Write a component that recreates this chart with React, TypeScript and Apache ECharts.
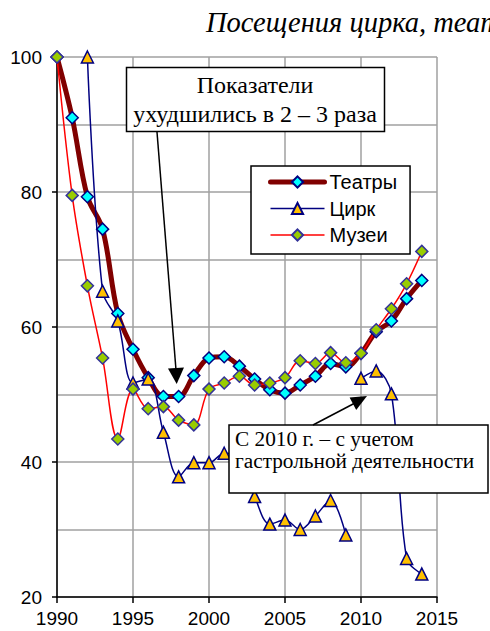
import React, { useEffect, useRef } from 'react';
import * as echarts from 'echarts';

const years = [1990, 1991, 1992, 1993, 1994, 1995, 1996, 1997, 1998, 1999, 2000, 2001, 2002, 2003, 2004, 2005, 2006, 2007, 2008, 2009, 2010, 2011, 2012, 2013, 2014];
const theaters = [100, 91.0, 79.3, 74.5, 62.0, 56.7, 52.5, 49.7, 49.7, 52.8, 55.4, 55.6, 54.2, 52.3, 50.7, 50.2, 51.4, 52.7, 54.6, 54.1, 56.1, 59.3, 60.9, 64.2, 66.9];
const circus = [null, null, 100, 65.3, 60.9, 51.7, 52.3, 44.4, 37.8, 39.9, 39.9, 41.3, 40.5, 34.9, 30.8, 31.4, 30.0, 32.0, 34.3, 29.2, 52.4, 53.5, 50.1, 25.7, 23.4];
const museums = [100, 79.5, 66.1, 55.4, 43.4, 50.8, 47.9, 48.2, 46.2, 45.5, 50.8, 51.7, 52.7, 51.4, 51.7, 52.5, 55.0, 54.6, 56.2, 54.7, 56.1, 59.6, 62.7, 66.4, 71.2];
const circusBreakYear = 2010; // touring activity included from 2010
const seriesNames = ['Театры', 'Цирк', 'Музеи'];
const titleText = 'Посещения цирка, театров и музеев';
const note1 = 'Показатели\nухудшились в 2 – 3 раза';
const note2 = 'С 2010 г. – с учетом\nгастрольной деятельности';

export default function App() {
  const ref = useRef<HTMLDivElement>(null);
  useEffect(() => {
    if (!ref.current) return;
    const chart = echarts.init(ref.current, null, { renderer: 'svg' });
    const pairs = (vals: (number | null)[], filter: (y: number) => boolean) =>
      years.map((y, i) => [y, vals[i]] as [number, number | null]).filter(([y, v]) => v !== null && filter(y));
    const sans = 'Liberation Sans, Arial, sans-serif';
    const serif = 'Liberation Serif, Times New Roman, serif';
    const grid = '#A0A0A0';
    const circusStyle = {
      type: 'line' as const,
      name: seriesNames[1],
      smooth: 0.35,
      symbol: 'triangle',
      symbolSize: 12,
      lineStyle: { color: '#000080', width: 1.5 },
      itemStyle: { color: '#FFC000', borderColor: '#000080', borderWidth: 1.5 },
    };
    chart.setOption({
      animation: false,
      title: {
        text: titleText,
        left: 206,
        top: 8,
        padding: 0,
        textStyle: { fontFamily: serif, fontStyle: 'italic', fontWeight: 'normal', fontSize: 28.5, color: '#000' },
      },
      grid: { left: 57, right: 53, top: 57, bottom: 34 },
      legend: {
        data: [
          { name: seriesNames[0], lineStyle: { width: 5, color: '#800000', cap: 'round' } },
          { name: seriesNames[1], lineStyle: { width: 1.5, color: '#000080' } },
          { name: seriesNames[2], lineStyle: { width: 1.5, color: '#FF0000' } },
        ],
        orient: 'vertical',
        left: 251,
        top: 166,
        padding: [6, 13, 9, 17],
        itemWidth: 54,
        itemHeight: 14,
        itemGap: 6.5,
        backgroundColor: '#fff',
        borderColor: '#000',
        borderWidth: 1.5,
        textStyle: { fontFamily: sans, fontSize: 20, color: '#000', lineHeight: 19 },
      },
      xAxis: {
        type: 'value',
        min: 1990,
        max: 2015,
        interval: 5,
        axisLine: { lineStyle: { color: '#000', width: 1.5 } },
        axisTick: { show: true, length: 6, lineStyle: { color: '#000', width: 1.5 } },
        axisLabel: { margin: 12, fontFamily: sans, fontSize: 19, color: '#000', formatter: (v: number) => String(v) },
        splitLine: { show: true, lineStyle: { color: grid, width: 1.5 } },
      },
      yAxis: {
        type: 'value',
        min: 20,
        max: 100,
        interval: 20,
        axisLine: { show: true, lineStyle: { color: '#000', width: 1.5 } },
        axisTick: { show: true, length: 5, lineStyle: { color: '#000', width: 1.5 } },
        axisLabel: { margin: 15, fontFamily: sans, fontSize: 19, color: '#000' },
        splitLine: { show: true, lineStyle: { color: grid, width: 1.5 } },
        minorTick: { show: false, splitNumber: 2 },
        minorSplitLine: { show: true, lineStyle: { color: grid, width: 1.5 } },
      },
      series: [
        {
          type: 'line',
          name: seriesNames[0],
          data: pairs(theaters, () => true),
          smooth: 0.35,
          symbol: 'diamond',
          symbolSize: 12,
          lineStyle: { color: '#800000', width: 5 },
          itemStyle: { color: '#00FFFF', borderColor: '#000080', borderWidth: 1.5 },
        },
        { ...circusStyle, data: pairs(circus, (y) => y < circusBreakYear) },
        { ...circusStyle, data: pairs(circus, (y) => y >= circusBreakYear) },
        {
          type: 'line',
          name: seriesNames[2],
          data: pairs(museums, () => true),
          smooth: 0.35,
          symbol: 'diamond',
          symbolSize: 12,
          lineStyle: { color: '#FF0000', width: 1.5 },
          itemStyle: { color: '#99CC00', borderColor: '#333399', borderWidth: 1.5 },
        },
      ],
      graphic: [
        {
          type: 'rect', z: 100,
          shape: { x: 126.5, y: 67.5, width: 258, height: 64 },
          style: { fill: '#fff', stroke: '#000', lineWidth: 1.5 },
        },
        {
          type: 'text', z: 101, x: 255, y: 70,
          style: { text: note1, fontFamily: serif, fontSize: 24, lineHeight: 29, align: 'center', verticalAlign: 'top', fill: '#000' },
        },
        {
          type: 'line', z: 100,
          shape: { x1: 157, y1: 132, x2: 176, y2: 370 },
          style: { stroke: '#000', lineWidth: 1.5 },
        },
        {
          type: 'polygon', z: 100,
          shape: { points: [[176.7, 384], [184, 367.5], [168, 368.5]] },
          style: { fill: '#000' },
        },
        {
          type: 'rect', z: 100,
          shape: { x: 229, y: 425, width: 259, height: 68 },
          style: { fill: '#fff', stroke: '#000', lineWidth: 1.5 },
        },
        {
          type: 'text', z: 101, x: 235, y: 428,
          style: { text: note2, fontFamily: serif, fontSize: 21.3, lineHeight: 22, align: 'left', verticalAlign: 'top', fill: '#000' },
        },
        {
          type: 'line', z: 100,
          shape: { x1: 313, y1: 425, x2: 355, y2: 403 },
          style: { stroke: '#000', lineWidth: 1.5 },
        },
        {
          type: 'polygon', z: 100,
          shape: { points: [[367, 396], [356.2, 410], [349.6, 397.4]] },
          style: { fill: '#000' },
        },
      ],
    });
    return () => chart.dispose();
  }, []);
  return <div ref={ref} style={{ position: 'absolute', left: 0, top: 0, width: 490, height: 631 }} />;
}
